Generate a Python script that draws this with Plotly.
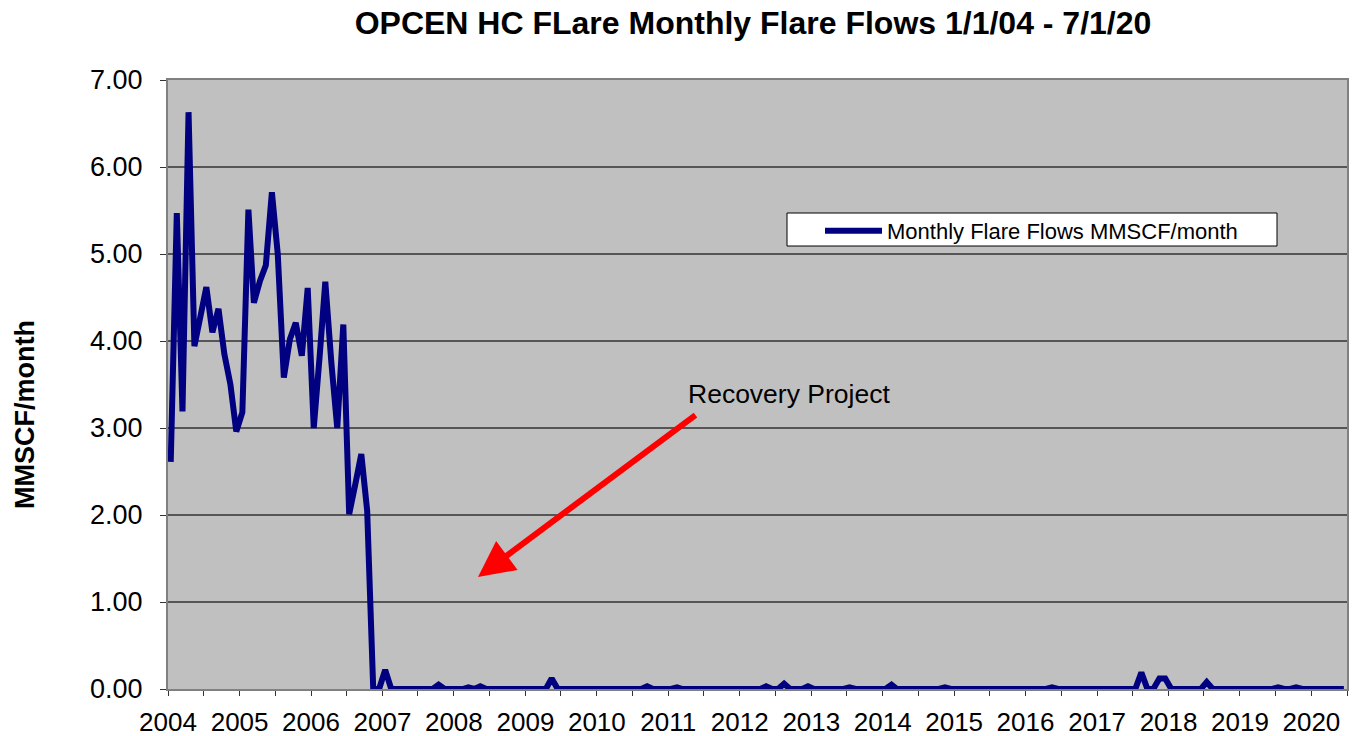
import plotly.graph_objects as go
import pandas as pd

# Monthly flare flows (MMSCF/month), Jan 2004 - Jun 2020
flows_2004 = [2.61, 5.47, 3.19, 6.63, 3.94, 4.30, 4.62, 4.10, 4.37, 3.85, 3.50, 2.96]
flows_2005 = [3.18, 5.51, 4.44, 4.69, 4.87, 5.71, 5.00, 3.58, 4.02, 4.21, 3.83, 4.61]
flows_2006 = [3.00, 3.85, 4.68, 3.75, 3.00, 4.19, 2.01, 2.35, 2.70, 2.05, 0.00, 0.00]
flows_2007 = [0.22, 0.00, 0.00, 0.00, 0.01, 0.00, 0.00, 0.00, 0.00, 0.05, 0.00, 0.00]
flows_2008 = [0.00, 0.00, 0.02, 0.00, 0.03, 0.00, 0.00, 0.00, 0.00, 0.00, 0.00, 0.00]
flows_2009 = [0.00, 0.00, 0.00, 0.00, 0.12, 0.00, 0.00, 0.00, 0.00, 0.00, 0.00, 0.00]
flows_2010 = [0.00, 0.00, 0.00, 0.00, 0.00, 0.00, 0.00, 0.00, 0.03, 0.00, 0.00, 0.00]
flows_2011 = [0.00, 0.02, 0.00, 0.00, 0.00, 0.00, 0.00, 0.00, 0.00, 0.00, 0.00, 0.00]
flows_2012 = [0.00, 0.00, 0.00, 0.00, 0.03, 0.00, 0.00, 0.06, 0.00, 0.00, 0.00, 0.03]
flows_2013 = [0.00, 0.00, 0.00, 0.00, 0.00, 0.00, 0.02, 0.00, 0.00, 0.00, 0.00, 0.00]
flows_2014 = [0.00, 0.05, 0.00, 0.00, 0.00, 0.00, 0.00, 0.00, 0.00, 0.00, 0.02, 0.00]
flows_2015 = [0.00, 0.00, 0.00, 0.00, 0.00, 0.00, 0.00, 0.00, 0.00, 0.00, 0.00, 0.00]
flows_2016 = [0.00, 0.00, 0.00, 0.00, 0.02, 0.00, 0.00, 0.00, 0.00, 0.00, 0.00, 0.00]
flows_2017 = [0.00, 0.00, 0.00, 0.00, 0.00, 0.00, 0.00, 0.19, 0.00, 0.00, 0.12, 0.12]
flows_2018 = [0.00, 0.00, 0.00, 0.00, 0.00, 0.00, 0.08, 0.00, 0.00, 0.00, 0.00, 0.00]
flows_2019 = [0.00, 0.00, 0.00, 0.00, 0.00, 0.00, 0.02, 0.00, 0.00, 0.02, 0.00, 0.00]
flows_2020 = [0.00, 0.00, 0.00, 0.00, 0.00, 0.00]

flows = (flows_2004 + flows_2005 + flows_2006 + flows_2007 + flows_2008 + flows_2009
         + flows_2010 + flows_2011 + flows_2012 + flows_2013 + flows_2014 + flows_2015
         + flows_2016 + flows_2017 + flows_2018 + flows_2019 + flows_2020)
dates = pd.date_range("2004-01-01", periods=len(flows), freq="MS") + pd.Timedelta(days=14)

y_ticks = [0, 1, 2, 3, 4, 5, 6, 7]

FONT = "Arial, Liberation Sans, sans-serif"

# plot area in page pixels
PL, PR, PT, PB = 168, 1347, 80, 689
PW, PH = PR - PL, PB - PT


def px(x):
    return (x - PL) / PW


def py(y):
    return (PB - y) / PH


fig = go.Figure()
fig.add_trace(go.Scatter(
    x=dates, y=flows, mode="lines",
    name="Monthly Flare Flows MMSCF/month",
    line=dict(color="#000080", width=6),
))

fig.update_layout(
    width=1356, height=736,
    margin=dict(l=PL, r=1356 - PR, t=PT, b=736 - PB),
    paper_bgcolor="white",
    plot_bgcolor="#C0C0C0",
    font=dict(family=FONT, color="black"),
    title=dict(
        text="<b>OPCEN HC FLare Monthly Flare Flows 1/1/04 - 7/1/20</b>",
        font=dict(size=32, family=FONT, color="black"),
        x=753 / 1356, xref="container", xanchor="center",
        y=1 - 23 / 736, yref="container", yanchor="middle",
    ),
    showlegend=True,
    legend=dict(
        x=px(820), y=py(210), xanchor="left", yanchor="top",
        bgcolor="rgba(0,0,0,0)", borderwidth=0,
        font=dict(size=22, family=FONT, color="black"),
        itemwidth=57,
    ),
    xaxis=dict(
        type="date",
        range=["2004-01-01", "2020-07-01"],
        dtick="M12", tick0="2004-01-01", tickformat="%Y",
        ticks="outside", ticklen=5, tickcolor="#333333",
        minor=dict(dtick="M6", ticks="outside", ticklen=5, tickcolor="#333333", showgrid=False),
        showgrid=False, zeroline=False,
        showline=True, linecolor="#808080", linewidth=2, mirror=True,
        tickfont=dict(size=26, family=FONT, color="black"),
        ticklabelstandoff=4,
        automargin=False,
    ),
    yaxis=dict(
        range=[0, 7], tickvals=y_ticks, tickformat=".2f",
        ticks="outside", ticklen=6, tickcolor="#333333",
        showgrid=True, gridcolor="#555555", gridwidth=1.5,
        zeroline=False,
        showline=True, linecolor="#808080", linewidth=2, mirror=True,
        tickfont=dict(size=27, family=FONT, color="black"),
        ticklabelstandoff=12,
        automargin=False,
    ),
    shapes=[
        dict(
            type="rect", xref="paper", yref="paper",
            x0=px(787), x1=px(1277), y0=py(246), y1=py(213),
            fillcolor="white", line=dict(color="black", width=1), layer="above",
        ),
    ],
    annotations=[
        dict(
            text="<b>MMSCF/month</b>", textangle=-90,
            xref="paper", yref="paper", x=px(25), y=py(415),
            xanchor="center", yanchor="middle", showarrow=False,
            font=dict(size=27, family=FONT, color="black"),
        ),
        dict(
            text="Recovery Project",
            xref="paper", yref="paper", x=px(686), y=py(394),
            xanchor="left", yanchor="middle", showarrow=False,
            font=dict(size=26.5, family=FONT, color="black"),
        ),
        dict(
            text="", xref="paper", yref="paper",
            x=px(478), y=py(577),
            ax=697 - 478, ay=414 - 577, axref="pixel", ayref="pixel",
            showarrow=True, arrowhead=2, arrowsize=1.2, arrowwidth=6, arrowcolor="#FF0000",
        ),
    ],
)

fig.write_html(
    "out.html",
    config={"displayModeBar": False},
    post_script="document.body.style.margin='0px';",
)
